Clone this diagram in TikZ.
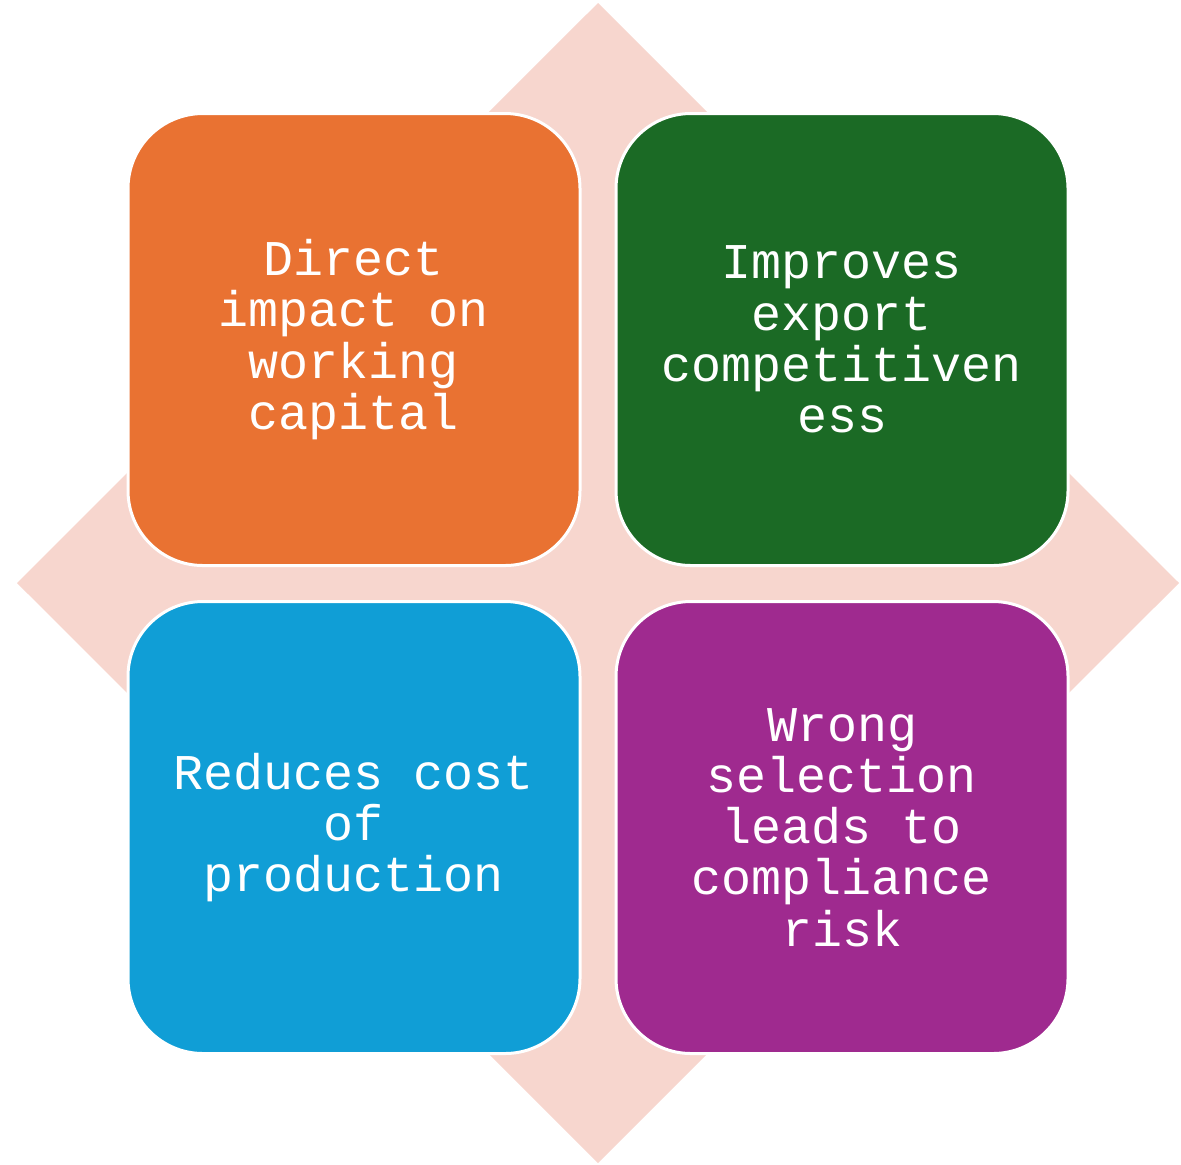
\documentclass[tikz,border=0pt]{standalone}
\usepackage{fontspec}
\setmonofont{Liberation Mono}
\usepackage{xcolor}
\usepackage{tikz}
\usetikzlibrary{positioning}
\definecolor{fondorosa}{RGB}{247,214,206}
\definecolor{naranja}{RGB}{233,114,50}
\definecolor{verde}{RGB}{27,106,37}
\definecolor{azul}{RGB}{16,158,214}
\definecolor{morado}{RGB}{159,42,143}

\begin{document}
\begin{tikzpicture}[
  x=0.5pt, y=-0.5pt,
  node distance=16.5pt,
  caja/.style={draw=white, line width=1.5pt, rounded corners=37.5pt,
               minimum width=226pt, minimum height=226pt, inner sep=0pt,
               align=center, text=white,
               font=\ttfamily\fontsize{25}{25.6}\selectfont}
]
\useasboundingbox (0,0) rectangle (1181,1164);
% rombo de fondo
\fill[fondorosa] (598,3) -- (1179,583) -- (598,1163) -- (17,583) -- cycle;

\node[caja, fill=naranja] (capital) at (354,339.5) {Direct\\impact on\\working\\capital};
\node[caja, fill=verde, right=of capital] (export) {Improves\\export\\competitiven\\ess};
\node[caja, fill=azul, below=of capital] (costo) {Reduces cost\\of\\production};
\node[caja, fill=morado, below=of export] (riesgo) {Wrong\\selection\\leads to\\compliance\\risk};
\end{tikzpicture}
\end{document}
